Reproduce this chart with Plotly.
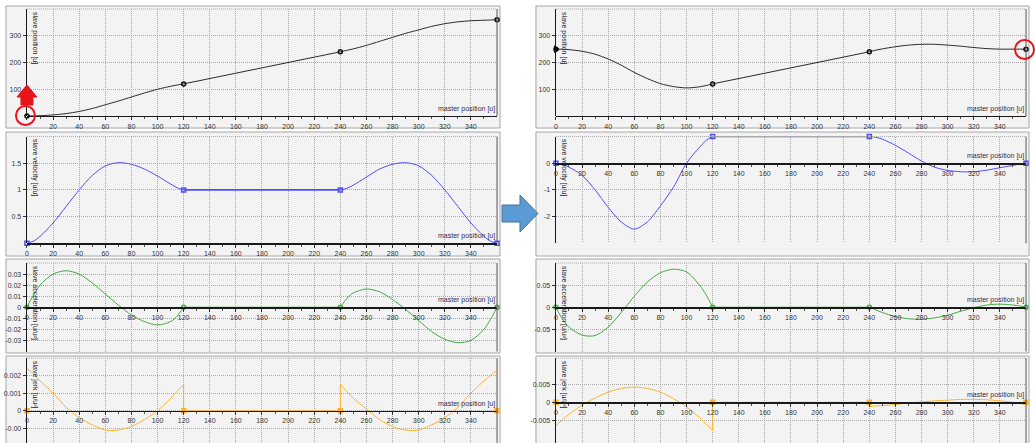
import plotly.graph_objects as go

W, H = 1035, 443

# ---------------- data ----------------
X_RISE = [0, 5, 10, 20, 30, 40, 50, 60, 70, 80, 90, 100, 110, 115, 120]
X_FLAT = [120, 240]
X_FALL = [240, 245, 250, 260, 270, 280, 290, 300, 310, 320, 330, 340, 350, 355, 360]

# left (original) cam
L_POS_A = [0, 0.3, 1, 4, 9, 17, 28, 42, 56, 71, 86, 100, 111, 116, 120]
L_POS_B = [240, 245.5, 251, 264, 279, 294, 309, 322, 335, 345, 352, 356, 358, 359, 360]
L_VEL_A = [0, 0.04, 0.13, 0.38, 0.69, 1.0, 1.27, 1.45, 1.51, 1.48, 1.39, 1.26, 1.11, 1.04, 1.0]
L_VEL_B = [1.0, 1.03, 1.09, 1.24, 1.39, 1.48, 1.51, 1.45, 1.27, 1.0, 0.69, 0.38, 0.13, 0.04, 0]
L_ACC_A = [0, 0.011, 0.020, 0.030, 0.033, 0.030, 0.022, 0.012, 0.002, -0.007, -0.013, -0.016, -0.013, -0.008, 0]
L_ACC_B = [0, 0.008, 0.013, 0.0165, 0.014, 0.007, -0.002, -0.012, -0.022, -0.029, -0.032, -0.030, -0.020, -0.011, 0]
L_JRK_A = [0.0024, 0.0021, 0.0017, 0.0010, 0.0002, -0.0004, -0.0008, -0.0011, -0.0011, -0.0009, -0.0005, 0.0, 0.0007, 0.0011, 0.0015]
L_JRK_B = [0.0015, 0.0011, 0.0007, 0.0001, -0.0005, -0.0009, -0.0011, -0.0011, -0.0008, -0.0004, 0.0002, 0.0010, 0.0017, 0.0020, 0.0023]

# right (modified) cam
R_POS_A = [250, 249.5, 248, 242, 231, 213, 190, 163, 140, 121, 110, 105, 109, 114, 120]
R_POS_B = [240, 246, 251, 259, 265, 268, 268, 265, 261, 256, 252, 250, 250, 250, 250]
R_VEL_A = [0, -0.05, -0.15, -0.45, -1.0, -1.65, -2.2, -2.47, -2.2, -1.6, -0.9, 0.0, 0.6, 0.85, 1.0]
R_VEL_B = [1.0, 0.97, 0.9, 0.67, 0.38, 0.08, -0.15, -0.27, -0.32, -0.32, -0.26, -0.17, -0.08, -0.03, 0]
R_ACC_A = [0, -0.027, -0.045, -0.063, -0.064, -0.045, -0.012, 0.025, 0.057, 0.078, 0.086, 0.080, 0.050, 0.028, 0]
R_ACC_B = [0, -0.006, -0.012, -0.021, -0.026, -0.027, -0.024, -0.018, -0.009, -0.001, 0.005, 0.007, 0.005, 0.003, 0]
R_JRK_A = [-0.0064, -0.0048, -0.0033, -0.0008, 0.0012, 0.0028, 0.0038, 0.0042, 0.0038, 0.0028, 0.0010, -0.0012, -0.0042, -0.006, -0.0078]
R_JRK_B = [-0.0012, -0.0010, -0.0009, -0.0006, -0.0002, 0.0001, 0.0004, 0.0006, 0.0008, 0.0008, 0.0007, 0.0004, 0.0000, -0.0003, -0.0006]

X_TICKS = list(range(0, 360, 20))

# ---------------- geometry helpers ----------------
def px(x):
    return x / W

def py(y):
    return 1 - y / H

LEFT_X = (25, 496)
RIGHT_X = (555, 1026)
ROWS = [  # top px, bottom px
    (9, 116),
    (136.5, 243.3),
    (263, 351.5),
    (358, 443),
]
L_RANGES = [(0, 400), (0, 2), (-0.04, 0.04), (-0.001835, 0.003)]
R_RANGES = [(0, 400), (-3, 1), (-0.1, 0.1), (-0.0112, 0.0122)]
L_YT = [[100, 200, 300], [0.5, 1, 1.5], [-0.03, -0.02, -0.01, 0, 0.01, 0.02, 0.03], [-0.001, 0, 0.001, 0.002]]
L_YTT = [["100", "200", "300"], ["0.5", "1", "1.5"], ["-0.03", "-0.02", "-0.01", "0", "0.01", "0.02", "0.03"], ["-0.00", "0", "0.001", "0.002"]]
R_YT = [[100, 200, 300], [-2, -1, 0], [-0.05, 0, 0.05], [-0.005, 0, 0.005]]
R_YTT = [["100", "200", "300"], ["-2", "-1", "0"], ["-0.05", "0", "0.05"], ["-0.005", "0", "0.005"]]
TITLES = ["slave position [u]", "slave velocity [u/u]", "slave acceleration [u/u²]", "slave jerk [u/u³]"]
COLORS = ["#2b2b2b", "#4d4dff", "#45a845", "#ffb22e"]

FONT = "Liberation Sans, Arial, sans-serif"
TICKFONT = dict(family=FONT, size=7, color="#333333")
GRID = "#a8a8a8"

fig = go.Figure()
layout = dict(
    width=W, height=H, margin=dict(l=0, r=0, t=0, b=0),
    paper_bgcolor="white", plot_bgcolor="rgba(0,0,0,0)", showlegend=False,
)
shapes = []
annotations = []

# panel frames
for (fx0, fx1) in [(4, 499), (535, 1029)]:
    for (fy0, fy1) in [(6, 128), (132, 256), (259, 353), (356, 446)]:
        shapes.append(dict(type="rect", xref="paper", yref="paper", layer="below",
                           x0=px(fx0), x1=px(fx1), y0=py(fy1), y1=py(fy0),
                           fillcolor="#f3f3f3", line=dict(color="#a6a6a6", width=1)))

idx = 0
for side, (xa, xb), ranges, yts, ytts in [("L", LEFT_X, L_RANGES, L_YT, L_YTT), ("R", RIGHT_X, R_RANGES, R_YT, R_YTT)]:
    for r in range(4):
        idx += 1
        xn = "xaxis" if idx == 1 else f"xaxis{idx}"
        yn = "yaxis" if idx == 1 else f"yaxis{idx}"
        xr = "x" if idx == 1 else f"x{idx}"
        yr = "y" if idx == 1 else f"y{idx}"
        top, bot = ROWS[r]
        lo, hi = ranges[r]
        if lo < 0 < hi:
            zero_px = bot - (0 - lo) / (hi - lo) * (bot - top)
        else:
            zero_px = bot
        xtt = [str(v) for v in X_TICKS]
        if idx == 1:
            xtt[0] = ""
        layout[xn] = dict(
            domain=[px(xa), px(xb)], range=[0, 360], anchor="free", position=py(zero_px),
            tickmode="array", tickvals=X_TICKS, ticktext=xtt,
            ticks="outside", ticklen=3, tickcolor="#333", tickwidth=1,
            minor=dict(tickvals=list(range(10, 360, 20)), ticks="outside", ticklen=2, tickcolor="#555", showgrid=False),
            showline=True, linecolor="#1a1a1a", linewidth=1.3,
            showgrid=True, gridcolor=GRID, griddash="1px,1px", gridwidth=1,
            zeroline=False, tickfont=TICKFONT, fixedrange=True,
        )
        layout[yn] = dict(
            domain=[py(bot), py(top)], range=[lo, hi], anchor=xr,
            tickmode="array", tickvals=yts[r], ticktext=ytts[r],
            ticks="outside", ticklen=3, tickcolor="#333",
            showline=True, linecolor="#1a1a1a", linewidth=1.3,
            showgrid=True, gridcolor=GRID, griddash="1px,1px", gridwidth=1,
            zeroline=False, tickfont=TICKFONT, fixedrange=True,
        )
        shapes.append(dict(type="line", xref="paper", yref="paper", x0=px(xa), x1=px(xb), y0=py(top), y1=py(top),
                           line=dict(color=GRID, width=1, dash="1px,1px")))
        shapes.append(dict(type="line", xref="paper", yref="paper", x0=px(xb), x1=px(xb), y0=py(bot), y1=py(top),
                           line=dict(color="#555555", width=1)))
        annotations.append(dict(xref="paper", yref="paper", x=px(xa + 2), y=py(top + 1), xanchor="left", yanchor="top",
                                text=TITLES[r], textangle=90, showarrow=False,
                                font=dict(family=FONT, size=7, color="#222")))
        annotations.append(dict(xref="paper", yref="paper", x=px(xb), y=py(zero_px - 1), xanchor="right", yanchor="bottom",
                                text="master position [u]", showarrow=False,
                                font=dict(family=FONT, size=7, color="#3a2a4a")))

        col = COLORS[r]
        if side == "L":
            A = [L_POS_A, L_VEL_A, L_ACC_A, L_JRK_A][r]
            B = [L_POS_B, L_VEL_B, L_ACC_B, L_JRK_B][r]
        else:
            A = [R_POS_A, R_VEL_A, R_ACC_A, R_JRK_A][r]
            B = [R_POS_B, R_VEL_B, R_ACC_B, R_JRK_B][r]
        flat = [A[-1], B[0]] if r < 2 else [0, 0]
        lw = 1
        fig.add_trace(go.Scatter(x=X_RISE, y=A, mode="lines", line=dict(color=col, width=lw, shape="spline", smoothing=0.8),
                                 xaxis=xr, yaxis=yr, hoverinfo="skip"))
        fig.add_trace(go.Scatter(x=X_FLAT, y=flat, mode="lines", line=dict(color=col, width=lw + (0.6 if r == 1 else 0)),
                                 xaxis=xr, yaxis=yr, hoverinfo="skip"))
        fig.add_trace(go.Scatter(x=X_FALL, y=B, mode="lines", line=dict(color=col, width=lw, shape="spline", smoothing=0.8),
                                 xaxis=xr, yaxis=yr, hoverinfo="skip"))
        if r == 3:
            fig.add_trace(go.Scatter(x=[X_RISE[-1], X_FLAT[0]], y=[A[-1], 0], mode="lines", line=dict(color=col, width=lw),
                                     xaxis=xr, yaxis=yr, hoverinfo="skip"))
            fig.add_trace(go.Scatter(x=[X_FLAT[-1], X_FALL[0]], y=[0, B[0]], mode="lines", line=dict(color=col, width=lw),
                                     xaxis=xr, yaxis=yr, hoverinfo="skip"))
        mk_y = [A[0], flat[0], flat[1], B[-1]] if r < 2 else [0, 0, 0, 0]
        sym = ["circle-open", "square-open", "circle-open", "square"][r]
        mk_line = "#111" if r == 0 else col
        fig.add_trace(go.Scatter(x=[X_RISE[0], X_FLAT[0], X_FLAT[1], X_FALL[-1]], y=mk_y, mode="markers",
                                 marker=dict(symbol=sym, size=4, color=mk_line, line=dict(color=mk_line, width=1.5)),
                                 xaxis=xr, yaxis=yr, hoverinfo="skip", cliponaxis=False))
        if side == "R" and r == 0:
            fig.add_trace(go.Scatter(x=[X_RISE[0]], y=[A[0]], mode="markers",
                                     marker=dict(symbol="triangle-right", size=7, color="#000"),
                                     xaxis=xr, yaxis=yr, hoverinfo="skip", cliponaxis=False))

# red highlight circles and red arrow
shapes.append(dict(type="circle", xref="paper", yref="paper", x0=px(14), x1=px(33), y0=py(125), y1=py(106),
                   line=dict(color="#e8141b", width=2)))
shapes.append(dict(type="circle", xref="paper", yref="paper", x0=px(1015), x1=px(1034), y0=py(59), y1=py(40),
                   line=dict(color="#e8141b", width=2)))
shapes.append(dict(type="path", xref="paper", yref="paper",
                   path=f"M {px(25)},{py(85)} L {px(35)},{py(97)} L {px(31)},{py(97)} L {px(31)},{py(105)} "
                        f"L {px(19)},{py(105)} L {px(19)},{py(97)} L {px(15)},{py(97)} Z",
                   fillcolor="#e8141b", line=dict(color="#e8141b", width=1)))
shapes.append(dict(type="path", xref="paper", yref="paper",
                   path=f"M {px(501)},{py(205)} L {px(519)},{py(205)} L {px(519)},{py(195)} L {px(537)},{py(213.5)} "
                        f"L {px(519)},{py(232)} L {px(519)},{py(222)} L {px(501)},{py(222)} Z",
                   fillcolor="#5b9bd5", line=dict(color="#41719c", width=1)))

layout["shapes"] = shapes
layout["annotations"] = annotations
fig.update_layout(**layout)
fig.write_html("out.html", config={"displayModeBar": False, "staticPlot": True},
               post_script="document.body.style.margin='0px';document.body.style.overflow='hidden';")
